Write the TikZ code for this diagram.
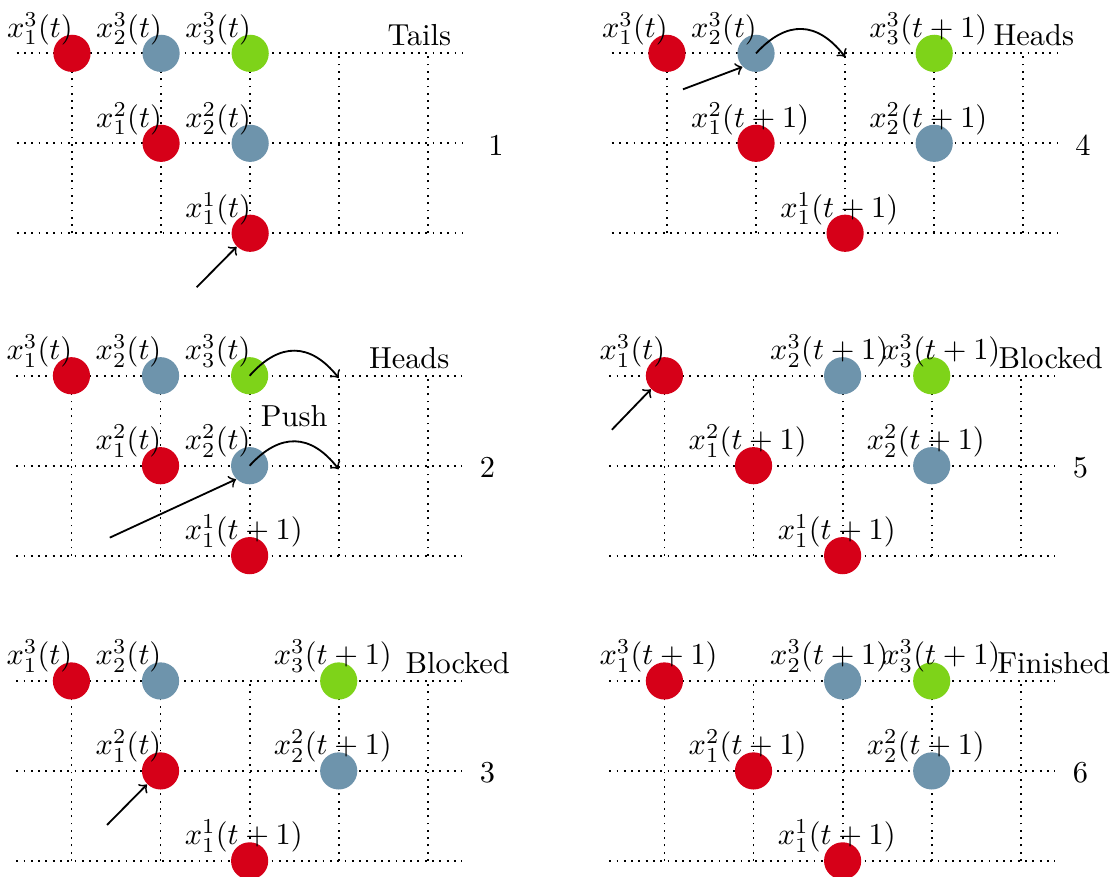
\documentclass[tikz,border=0pt]{standalone}
\usepackage{amsmath}
\usepackage{tikz}
\definecolor{dotred}{RGB}{214,0,24}
\definecolor{dotblue}{RGB}{110,148,172}
\definecolor{dotgreen}{RGB}{126,211,25}
\tikzset{gridline/.style={line width=0.6pt, dash pattern=on 0.6pt off 1.8pt}}
\newcommand{\cellgrid}{%
  \foreach \r in {1,2,3} {\draw[gridline] (0.38,\r) -- (5.38,\r);}
  \foreach \c in {1,...,5} {\draw[gridline] (\c,1) -- (\c,3);}
}

\begin{document}
\begin{tikzpicture}[
  x=1.03cm, y=1.04cm,
  dot/.style={circle, inner sep=0pt, minimum size=4.3mm},
  reddot/.style={dot, fill=dotred},
  bluedot/.style={dot, fill=dotblue},
  greendot/.style={dot, fill=dotgreen},
  lbl/.style={anchor=south west, inner sep=0pt, xshift=-7.57mm, yshift=0.92mm},
  status/.style={anchor=base west, inner sep=0pt, yshift=0.87mm},
  panelno/.style={inner sep=0pt, yshift=-0.2mm},
  move/.style={->, semithick},
  hop/.style={->, semithick, bend left=50, looseness=1.3}
]
\useasboundingbox (0,0) rectangle (12.549,-9.749);

% 1: tails
\begin{scope}[shift={(-0.192,-3.593)}]
\cellgrid
\node[reddot] (p1x13) at (1,3) {};
\node[bluedot] (p1x23) at (2,3) {};
\node[greendot] (p1x33) at (3,3) {};
\node[reddot] (p1x12) at (2,2) {};
\node[bluedot] (p1x22) at (3,2) {};
\node[reddot] (p1x11) at (3,1) {};
\node[lbl] (p1l13) at (p1x13) {$x_1^3(t)$};
\node[lbl] (p1l23) at (p1x23) {$x_2^3(t)$};
\node[lbl] (p1l33) at (p1x33) {$x_3^3(t)$};
\node[lbl] (p1l12) at (p1x12) {$x_1^2(t)$};
\node[lbl] (p1l22) at (p1x22) {$x_2^2(t)$};
\node[lbl] (p1l11) at (p1x11) {$x_1^1(t)$};
\node[status] (p1st) at (4.535,3) {Tails};
\node[panelno] (p1no) at (5.76,2) {1};
\coordinate (p1in) at (2.4,0.4);
\draw[move] (p1in) -- (p1x11.south west);
\end{scope}

% 2: heads, push
\begin{scope}[shift={(-0.198,-7.177)}]
\cellgrid
\node[reddot] (p2x13) at (1,3) {};
\node[bluedot] (p2x23) at (2,3) {};
\node[greendot] (p2x33) at (3,3) {};
\node[reddot] (p2x12) at (2,2) {};
\node[bluedot] (p2x22) at (3,2) {};
\node[reddot] (p2x11) at (3,1) {};
\node[lbl] (p2l13) at (p2x13) {$x_1^3(t)$};
\node[lbl] (p2l23) at (p2x23) {$x_2^3(t)$};
\node[lbl] (p2l33) at (p2x33) {$x_3^3(t)$};
\node[lbl] (p2l12) at (p2x12) {$x_1^2(t)$};
\node[lbl] (p2l22) at (p2x22) {$x_2^2(t)$};
\node[lbl] (p2l11) at (p2x11) {$x_1^1(t+1)$};
\node[status] (p2st) at (4.333,3) {Heads};
\node (p2push) at (3.5,2.55) {Push};
\node[panelno] (p2no) at (5.67,2) {2};
\coordinate (p2h3) at (4,2.975);
\coordinate (p2h2) at (4,1.96);
\coordinate (p2in) at (1.43,1.2);
\draw[hop] (p2x33.center) to (p2h3);
\draw[hop] (p2x22.center) to (p2h2);
\draw[move] (p2in) -- (p2x22.south west);
\end{scope}

% 3: blocked
\begin{scope}[shift={(-0.198,-10.570)}]
\cellgrid
\node[reddot] (p3x13) at (1,3) {};
\node[bluedot] (p3x23) at (2,3) {};
\node[greendot] (p3x33) at (4,3) {};
\node[reddot] (p3x12) at (2,2) {};
\node[bluedot] (p3x22) at (4,2) {};
\node[reddot] (p3x11) at (3,1) {};
\node[lbl] (p3l13) at (p3x13) {$x_1^3(t)$};
\node[lbl] (p3l23) at (p3x23) {$x_2^3(t)$};
\node[lbl] (p3l33) at (p3x33) {$x_3^3(t+1)$};
\node[lbl] (p3l12) at (p3x12) {$x_1^2(t)$};
\node[lbl] (p3l22) at (p3x22) {$x_2^2(t+1)$};
\node[lbl] (p3l11) at (p3x11) {$x_1^1(t+1)$};
\node[status] (p3st) at (4.743,3) {Blocked};
\node[panelno] (p3no) at (5.67,2) {3};
\coordinate (p3in) at (1.4,1.4);
\draw[move] (p3in) -- (p3x12.south west);
\end{scope}

% 4: heads
\begin{scope}[shift={(6.486,-3.593)}]
\cellgrid
\node[reddot] (p4x13) at (1,3) {};
\node[bluedot] (p4x23) at (2,3) {};
\node[greendot] (p4x33) at (4,3) {};
\node[reddot] (p4x12) at (2,2) {};
\node[bluedot] (p4x22) at (4,2) {};
\node[reddot] (p4x11) at (3,1) {};
\node[lbl] (p4l13) at (p4x13) {$x_1^3(t)$};
\node[lbl] (p4l23) at (p4x23) {$x_2^3(t)$};
\node[lbl] (p4l33) at (p4x33) {$x_3^3(t+1)$};
\node[lbl] (p4l12) at (p4x12) {$x_1^2(t+1)$};
\node[lbl] (p4l22) at (p4x22) {$x_2^2(t+1)$};
\node[lbl] (p4l11) at (p4x11) {$x_1^1(t+1)$};
\node[status] (p4st) at (4.66,3) {Heads};
\node[panelno] (p4no) at (5.67,2) {4};
\coordinate (p4h3) at (3,2.96);
\coordinate (p4in) at (1.18,2.6);
\draw[hop] (p4x23.center) to (p4h3);
\draw[move] (p4in) -- (p4x23.south west);
\end{scope}

% 5: blocked
\begin{scope}[shift={(6.458,-7.177)}]
\cellgrid
\node[reddot] (p5x13) at (1,3) {};
\node[bluedot] (p5x23) at (3,3) {};
\node[greendot] (p5x33) at (4,3) {};
\node[reddot] (p5x12) at (2,2) {};
\node[bluedot] (p5x22) at (4,2) {};
\node[reddot] (p5x11) at (3,1) {};
\node[lbl] (p5l13) at (p5x13) {$x_1^3(t)$};
\node[lbl, xshift=-0.87mm] (p5l23) at (p5x23) {$x_2^3(t+1)$};
\node[lbl, xshift=1.79mm] (p5l33) at (p5x33) {$x_3^3(t+1)$};
\node[lbl] (p5l12) at (p5x12) {$x_1^2(t+1)$};
\node[lbl] (p5l22) at (p5x22) {$x_2^2(t+1)$};
\node[lbl] (p5l11) at (p5x11) {$x_1^1(t+1)$};
\node[status] (p5st) at (4.743,3) {Blocked};
\node[panelno] (p5no) at (5.67,2) {5};
\coordinate (p5in) at (0.41,2.4);
\draw[move] (p5in) -- (p5x13.south west);
\end{scope}

% 6: finished
\begin{scope}[shift={(6.458,-10.570)}]
\cellgrid
\node[reddot] (p6x13) at (1,3) {};
\node[bluedot] (p6x23) at (3,3) {};
\node[greendot] (p6x33) at (4,3) {};
\node[reddot] (p6x12) at (2,2) {};
\node[bluedot] (p6x22) at (4,2) {};
\node[reddot] (p6x11) at (3,1) {};
\node[lbl] (p6l13) at (p6x13) {$x_1^3(t+1)$};
\node[lbl, xshift=-0.87mm] (p6l23) at (p6x23) {$x_2^3(t+1)$};
\node[lbl, xshift=1.79mm] (p6l33) at (p6x33) {$x_3^3(t+1)$};
\node[lbl] (p6l12) at (p6x12) {$x_1^2(t+1)$};
\node[lbl] (p6l22) at (p6x22) {$x_2^2(t+1)$};
\node[lbl] (p6l11) at (p6x11) {$x_1^1(t+1)$};
\node[status] (p6st) at (4.73,3) {Finished};
\node[panelno] (p6no) at (5.67,2) {6};
\end{scope}
\end{tikzpicture}
\end{document}
